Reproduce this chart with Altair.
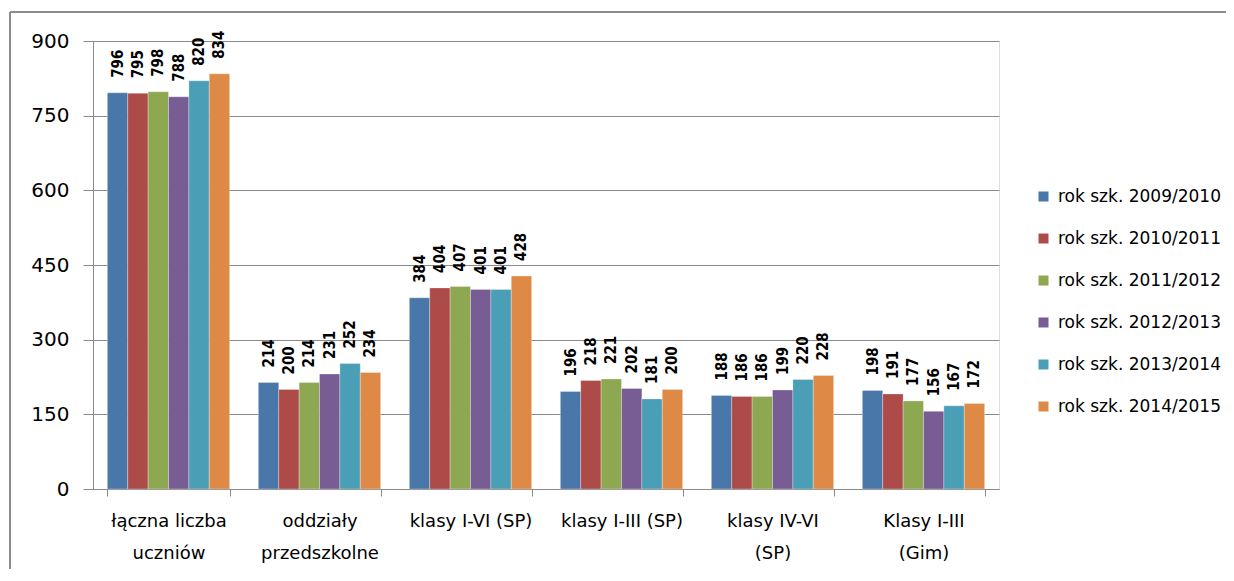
import altair as alt
import pandas as pd

categories = [
    "łączna liczba\nuczniów",
    "oddziały\nprzedszkolne",
    "klasy I-VI (SP)",
    "klasy I-III (SP)",
    "klasy IV-VI\n(SP)",
    "Klasy I-III\n(Gim)",
]
series = [
    "rok szk. 2009/2010",
    "rok szk. 2010/2011",
    "rok szk. 2011/2012",
    "rok szk. 2012/2013",
    "rok szk. 2013/2014",
    "rok szk. 2014/2015",
]
values = {
    "rok szk. 2009/2010": [796, 214, 384, 196, 188, 198],
    "rok szk. 2010/2011": [795, 200, 404, 218, 186, 191],
    "rok szk. 2011/2012": [798, 214, 407, 221, 186, 177],
    "rok szk. 2012/2013": [788, 231, 401, 202, 199, 156],
    "rok szk. 2013/2014": [820, 252, 401, 181, 220, 167],
    "rok szk. 2014/2015": [834, 234, 428, 200, 228, 172],
}
colors = ["#4A77AA", "#AD4B49", "#8EA852", "#775D93", "#4A9EB5", "#DE8A46"]

rows = []
for s in series:
    for c, v in zip(categories, values[s]):
        rows.append({"kategoria": c, "rok": s, "wartosc": v})
df = pd.DataFrame(rows)

x_enc = alt.X(
    "kategoria:N",
    sort=categories,
    scale=alt.Scale(paddingInner=0.19, paddingOuter=0.095),
    axis=alt.Axis(
        title=None,
        labelAngle=0,
        labelExpr="datum.value ? split(datum.value, '\\n') : ''",
        labelFont="DejaVu Sans",
        labelFontSize=18,
        labelColor="#000000",
        labelLineHeight=32,
        labelPadding=16,
        labelBaseline="top",
        labelOverlap=False,
        labelLimit=200,
        tickBand="extent",
        tickSize=7,
        tickColor="#8a8a8a",
        domainColor="#8a8a8a",
        grid=False,
    ),
)
xoff = alt.XOffset("rok:N", sort=series)

base = alt.Chart(df)

bars = base.mark_bar(stroke="#ffffff", strokeWidth=0.6, strokeOpacity=0.5).encode(
    x=x_enc,
    xOffset=xoff,
    y=alt.Y(
        "wartosc:Q",
        scale=alt.Scale(domain=[0, 900], nice=False),
        axis=alt.Axis(
            title=None,
            values=[0, 150, 300, 450, 600, 750, 900],
            labelFont="DejaVu Sans",
            labelFontSize=20,
            labelColor="#000000",
            labelPadding=14,
            tickSize=10,
            tickColor="#8a8a8a",
            domainColor="#8a8a8a",
            gridColor="#8a8a8a",
            gridWidth=1,
        ),
    ),
    color=alt.Color(
        "rok:N",
        sort=series,
        scale=alt.Scale(domain=series, range=colors),
        legend=alt.Legend(
            title=None,
            orient="none",
            legendX=942,
            legendY=147,
            symbolType="square",
            symbolSize=100,
            symbolStrokeWidth=0,
            labelFont="DejaVu Sans",
            labelFontSize=17,
            labelColor="#000000",
            labelLimit=250,
            rowPadding=24,
            labelOffset=6,
        ),
    ),
)

labels = base.mark_text(
    angle=270,
    align="left",
    baseline="middle",
    dx=15,
    font="DejaVu Sans Condensed, DejaVu Sans",
    fontSize=15,
    fontWeight="bold",
    color="#000000",
).encode(
    x=alt.X("kategoria:N", sort=categories),
    xOffset=xoff,
    y="wartosc:Q",
    text="wartosc:Q",
)

frame_v = alt.Chart(pd.DataFrame({"a": [0]})).mark_rule(color="#8c8c8c", strokeWidth=2).encode(
    x=alt.value(-83), y=alt.value(-29), y2=alt.value(560)
)
frame_h = alt.Chart(pd.DataFrame({"a": [0]})).mark_rule(color="#8c8c8c", strokeWidth=2).encode(
    x=alt.value(-83), x2=alt.value(1141), y=alt.value(-29)
)

chart = (
    alt.layer(bars, labels, frame_v, frame_h)
    .properties(
        width=906,
        height=448,
        autosize=alt.AutoSizeParams(type="none"),
        padding={"left": 85, "top": 33, "right": 227, "bottom": 80},
    )
    .configure_view(stroke=None)
    .configure(background="#ffffff")
)

chart.save("out.html", embed_options={"renderer": "svg", "actions": False})
